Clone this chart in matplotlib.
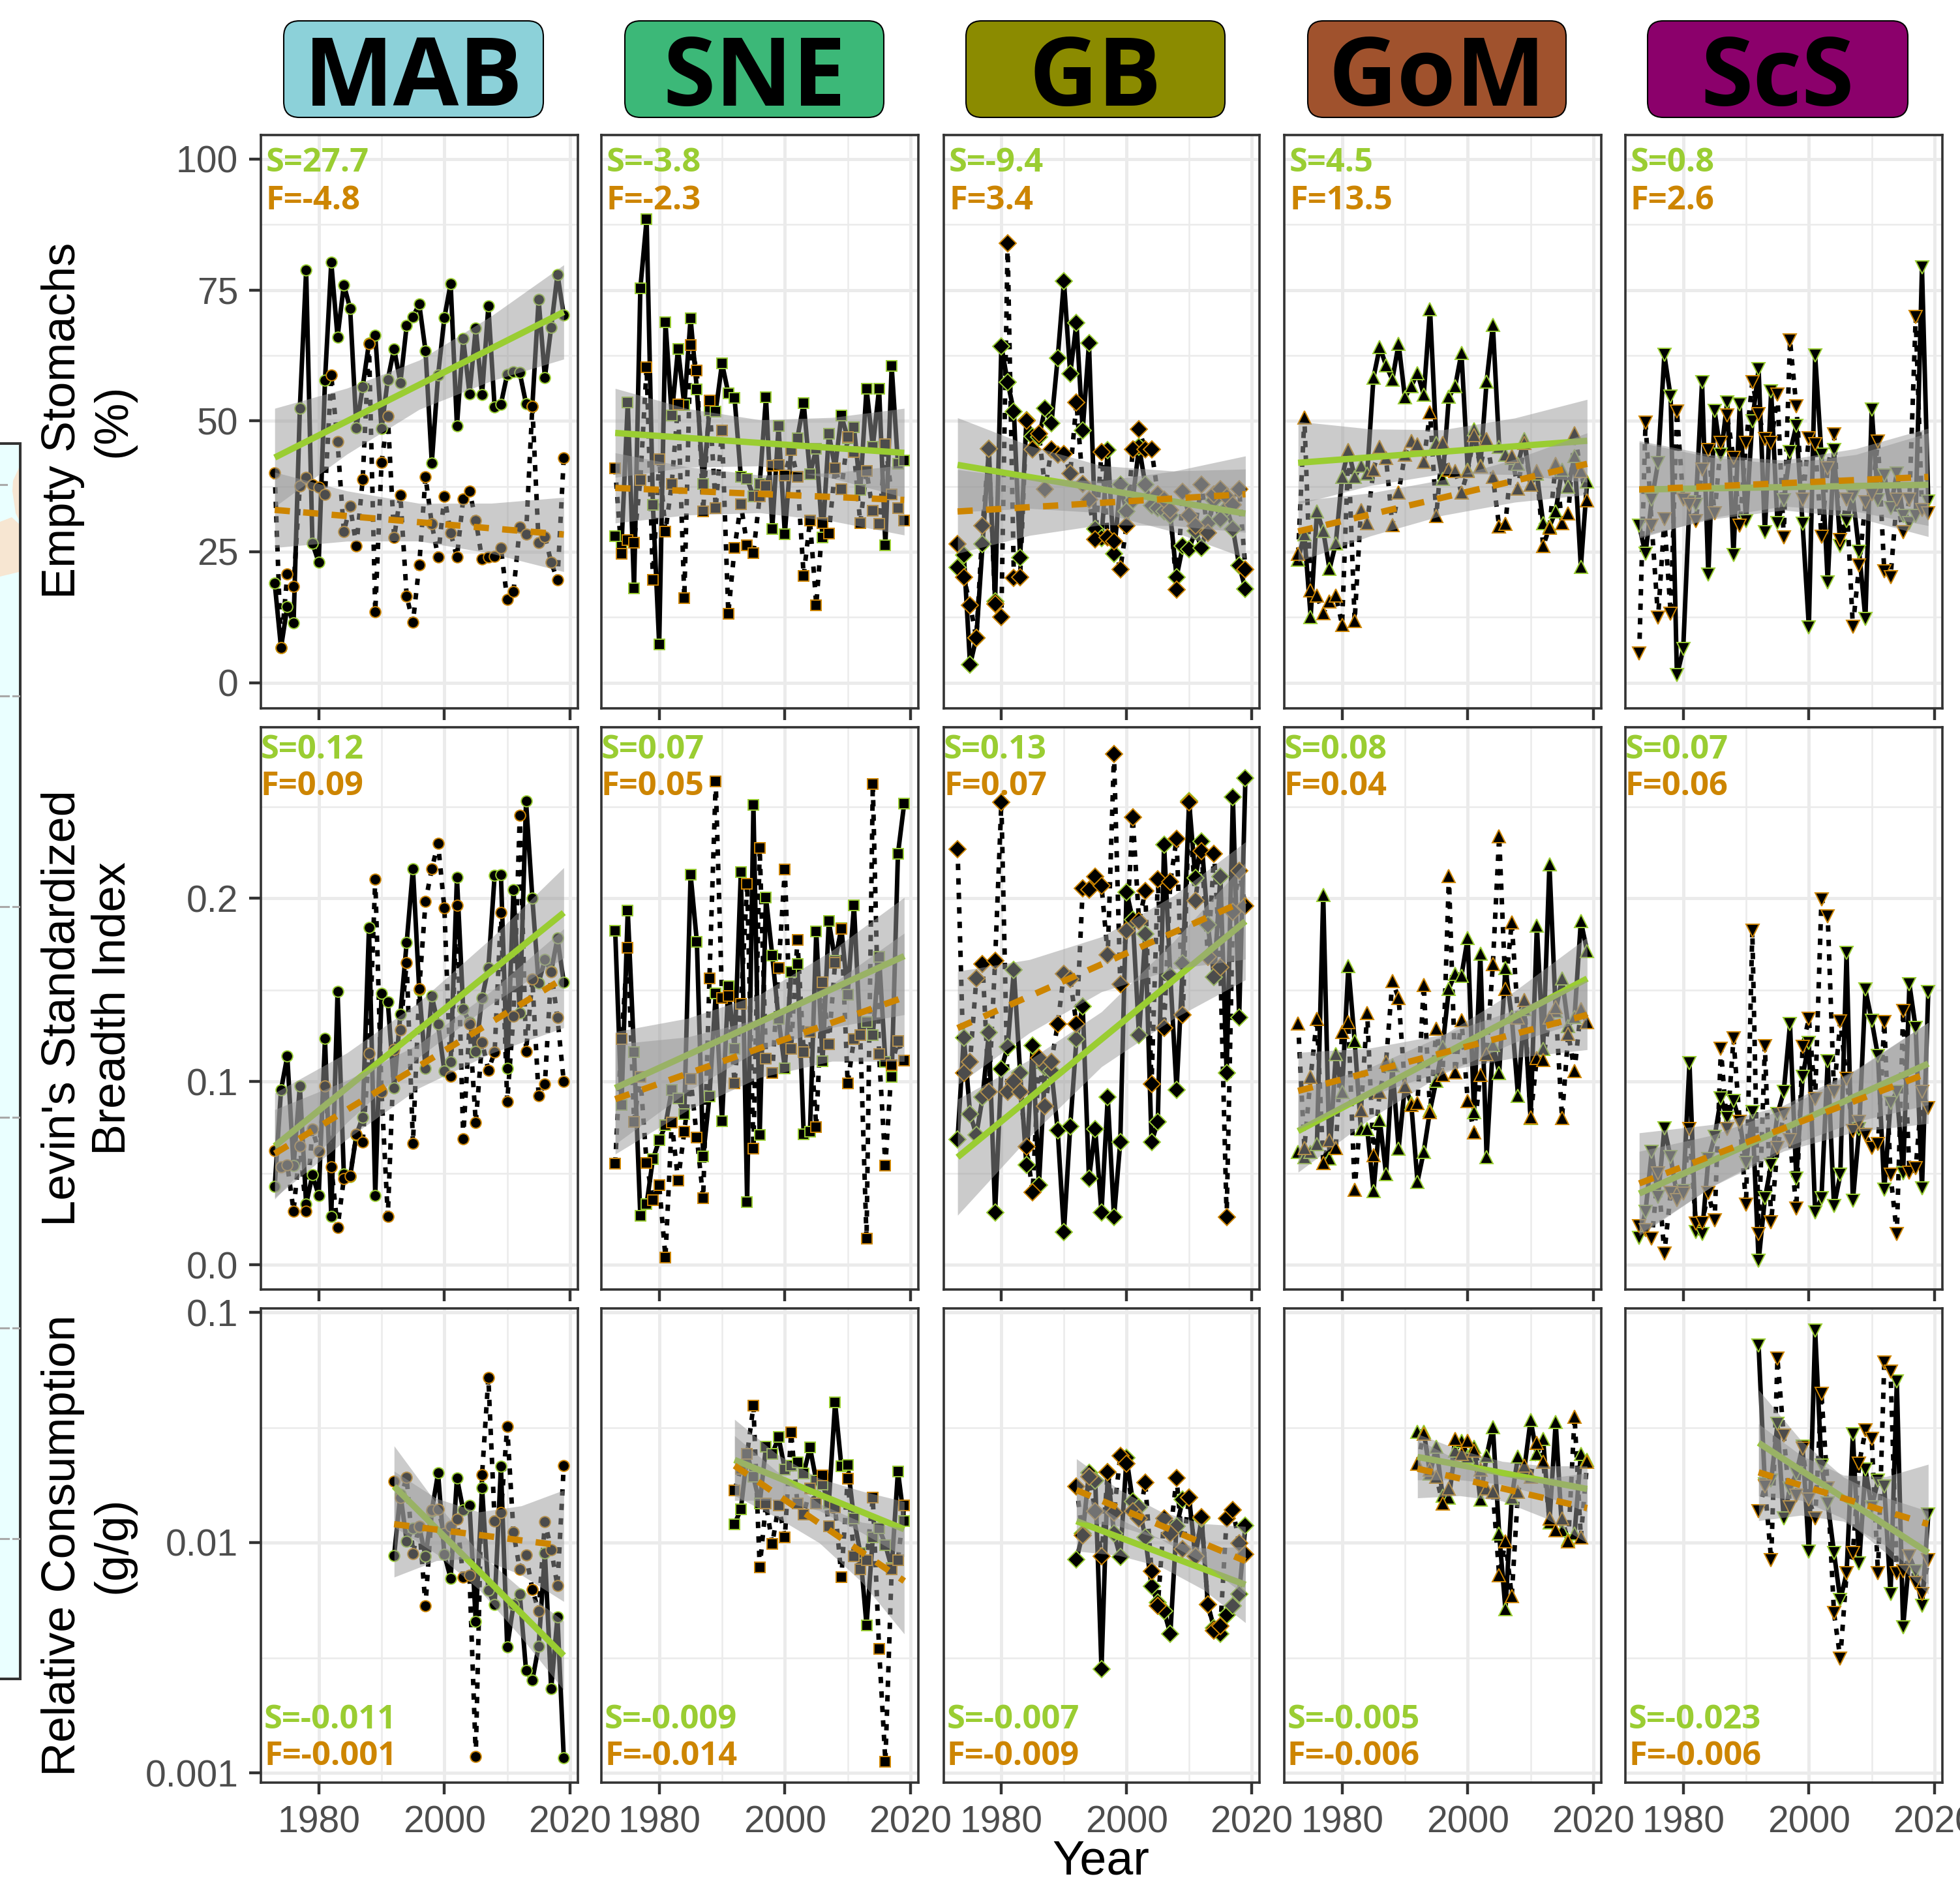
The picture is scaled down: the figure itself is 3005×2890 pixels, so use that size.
import numpy as np
import matplotlib
matplotlib.use("Agg")
import matplotlib.pyplot as plt
from matplotlib.patches import FancyBboxPatch, Rectangle, Polygon

W, H = 3005, 2890
regions = ["MAB", "SNE", "GB", "GoM", "ScS"]
region_colors = ["#8CD1D9", "#3CB878", "#8B8B00", "#A0522D", "#8B006B"]
markers = ["o", "s", "D", "^", "v"]
marker_sizes = [12, 11.5, 13, 15, 15]
years_full = np.arange(1973, 2020)
years_cons = np.arange(1992, 2020)
S_COL = "#9ACD32"
F_COL = "#CD8500"

MAB_empty_S = [19,6.7,14.5,11.4,52.4,78.8,26.6,23,57.7,80.3,
 66,76,71.5,48.7,56.5,64.9,66.4,48.5,57.9,63.8,
 57.3,68.2,69.9,72.3,63.4,42,58.7,69.7,76.2,49,
 65.7,55.2,67.7,55,71.9,52.6,53.2,58.9,59.4,59.2,
 53.3,52.8,73.2,58.3,67.9,78,70.2]
MAB_empty_F = [40.1,6.7,20.7,18.4,37.6,39.2,37.8,37.3,36,58.7,
 46,28.8,33.7,26.1,38.8,64.7,13.5,42.1,50.9,27.7,
 35.8,16.5,11.5,22.5,39.3,30.3,24,35.6,28.6,24,
 35.1,36.6,31,23.6,24,24.1,25.7,15.9,17.4,29.7,
 28.3,52.8,26.8,27.9,23,19.6,42.9]
SNE_empty_S = [28,26,53.5,18,75.3,88.5,34,7.3,68.9,51,
 63.8,53,69.6,56,38,52,51.8,61,55.3,54.4,
 39.3,38.9,35.6,38,54.5,29.4,49,28.4,44.4,46.7,
 53.4,39.8,44.7,27.7,47.5,41,51,46.7,48.8,36.8,
 56.2,45,56.2,26.2,60.5,41.8,42.5]
SNE_empty_F = [41,24.6,27.2,26.8,38.7,60.2,19.7,42.7,28.9,38,
 53.1,16.2,64.5,59.6,32.7,53.9,33.3,48.2,13.2,25.7,
 34.1,26.2,24.8,35.6,37.6,41.4,41.6,39.6,44.4,39.3,
 20.4,31,14.8,30.5,28.5,41,36.9,46.9,44,30.5,
 40.4,32.8,30.3,45.5,36,33.4,31]
GB_empty_S = [22,24.4,3.4,8.6,26.5,44.7,15.5,64.3,57.4,51.8,
 23.9,50.2,47.1,46.9,52.4,49.5,62,76.7,59,68.7,
 48.2,64.8,29.4,27.6,44.4,24.6,37.8,32.7,34.9,45.1,
 37.8,33.8,33.4,32.7,32,20.2,26.1,25.5,29,25.7,
 30.5,34.9,31.2,33.4,29.4,22.4,17.9]
GB_empty_F = [26.5,20.2,14.8,8.6,30,44.7,15,12.6,83.9,20,
 20.2,50,44.5,47.5,37,44.6,43.5,43.7,40,53.5,
 38,35,27.4,44,27.7,27,21.6,30,44.5,48.4,
 44.5,44.5,36,35,33,17.8,36.5,32,30,37.8,
 28.6,36,37,35.5,34,37,21.6]
GoM_empty_S = [23.5,28.3,12.6,32.7,29,21.7,26.6,39.3,44.4,39.3,
 41.4,40,58.3,64.1,60.6,57.9,64.7,54.5,56.6,59.1,
 55,71.4,45.8,38.9,54.6,56.6,63,40.7,48.4,41.4,
 57.5,68.3,45.1,43.6,42.9,41.8,46.6,37.8,40,30.5,
 29.8,32.7,40.7,37.4,43.3,22.1,38.5]
GoM_empty_F = [24.6,50.6,17.7,16.6,13.3,15.5,16.7,11.1,44.4,11.8,
 33,30.5,40.7,45.1,42.9,30.1,36.3,43.6,46.2,45.5,
 42.2,51.7,31.9,45.8,40.7,40.4,36.3,40.4,47.3,41.3,
 46.6,39.3,29.8,30.3,43.3,37.1,45.8,37.8,40.4,26.1,
 29.6,41.8,30.5,32.3,47.7,40.4,34.9]
ScS_empty_S = [30,24.6,35,42,62.6,54.6,1.4,6.4,34.5,34,
 57.4,20.6,51.9,43.6,53.5,24.4,53.1,30.8,49.9,59.9,
 28.7,55.7,30.5,34.9,44,49.1,30.3,10.6,62.5,43.6,
 19.2,44.4,26.1,30.8,35.6,25,12.2,52.2,34.9,39.6,
 33.4,40,31.9,30.5,31.9,79.3,34.6]
ScS_empty_F = [5.6,49.7,30,12.4,31.2,13.2,51.8,35,34,30.8,
 40.7,44.4,32.3,45.8,51,42.9,30,45.8,57.4,51.3,
 46.6,45.8,55,27.8,65.4,52.8,35,46.7,45.5,27.9,
 41,47.4,27.2,35,10.7,22.4,34.5,36,46,21.3,
 20.2,35,28.7,35,69.8,33,32.3]

MAB_levin_S = [.0427,.0953,.1139,.054,.0975,.033,.049,.0378,.1235,.0264,
 .1493,.0495,.048,.071,.0806,.184,.0378,.148,.1436,.0965,
 .1368,.1759,.2162,.15,.1072,.1466,.1313,.1057,.1108,.2114,
 .1395,.1323,.1166,.1456,.162,.2125,.2131,.1072,.2049,.1374,
 .253,.2002,.1538,.1665,.1603,.1783,.1542]
MAB_levin_F = [.0622,.0536,.0546,.0294,.0648,.0294,.074,.062,.0975,.0536,
 .0202,.047,.0485,.0714,.0669,.1155,.2106,.0945,.0264,.1174,
 .1282,.165,.0663,.1507,.1982,.2162,.2299,.1947,.1031,.1961,
 .0689,.1313,.0775,.1215,.1063,.116,.1922,.089,.1358,.2454,
 .1164,.1558,.0924,.0986,.16,.1348,.1]
SNE_levin_S = [.1824,.0873,.1933,.116,.0266,.0331,.0577,.0679,.0761,.0955,
 .0908,.0822,.2131,.1763,.0591,.092,.1481,.0785,.1521,.118,
 .2145,.0342,.2509,.071,.2004,.1687,.1344,.1072,.16,.164,
 .0714,.0726,.182,.1112,.1875,.166,.1838,.1476,.1963,.1252,
 .1323,.1252,.1681,.1108,.1027,.2243,.2519]
SNE_levin_F = [.0552,.1231,.1732,.0781,.1027,.0556,.0352,.0434,.0041,.0777,
 .046,.0726,.1016,.0695,.0362,.1564,.2638,.1456,.1466,.099,
 .1425,.208,.0634,.2274,.1125,.1047,.162,.2157,.118,.1773,
 .116,.127,.0751,.1542,.1204,.165,.1834,.099,.1231,.1252,
 .0143,.2626,.1149,.0542,.1088,.1221,.1115]
GB_levin_S = [.0685,.1241,.0822,.071,.0914,.1266,.0286,.1069,.119,.1609,
 .1047,.0546,.1196,.0434,.1078,.1057,.0734,.0178,.0755,.1231,
 .1411,.047,.074,.0286,.0914,.026,.0669,.2035,.1885,.1252,
 .1804,.0669,.0781,.2294,.1579,.0955,.1646,.253,.211,.2311,
 .1855,.1569,.212,.1047,.2554,.135,.2656]
GB_levin_F = [.2268,.1047,.1108,.1564,.164,.0945,.1661,.2524,.0945,.1,
 .0945,.0644,.0397,.1129,.0867,.1108,.1313,.1589,.1558,.1313,
 .2053,.2049,.212,.207,.1691,.2789,.1532,.1824,.2442,.1875,
 .2039,.0986,.2104,.1292,.209,.2325,.1364,.2524,.1988,.2258,
 .1681,.2243,.1624,.026,.1926,.2151,.1957]
GoM_levin_S = [.0618,.0587,.0618,.0659,.2018,.0581,.1149,.0945,.163,.1221,
 .074,.074,.0403,.0791,.0495,.1088,.0634,.0975,.0883,.0454,
 .0618,.0843,.1006,.119,.1507,.1589,.1579,.1783,.0832,.1697,
 .0587,.12,.1047,.162,.1354,.0924,.1395,.08,.1851,.118,
 .2186,.1384,.1562,.1303,.1354,.1875,.1712]
GoM_levin_F = [.1319,.0638,.1027,.1344,.0556,.0679,.0638,.1272,.1323,.0409,
 .0843,.1374,.0597,.0945,.1108,.1548,.1456,.0975,.0873,.0883,
 .1528,.0832,.1288,.1037,.2121,.105,.1337,.0894,.0724,.1037,
 .1149,.164,.234,.1507,.1869,.135,.1446,.0806,.1129,.1119,
 .135,.1405,.0802,.1262,.1057,.1395,.1323]
ScS_levin_S = [.0147,.029,.0618,.037,.0744,.0587,.0382,.0403,.1102,.0178,
 .0168,.0577,.0699,.0908,.0802,.0894,.0781,.0556,.0832,.002,
 .0362,.0546,.0822,.0945,.1313,.047,.1027,.1211,.0286,.0362,
 .1112,.0321,.0491,.1701,.0348,.074,.1501,.1333,.1139,.0409,
 .0883,.0945,.05,.1532,.1292,.0417,.1487]
ScS_levin_F = [.0209,.0188,.0143,.05,.0061,.0393,.0352,.039,.074,.0225,
 .0229,.0393,.0243,.118,.074,.1235,.0781,.0327,.1824,.0168,
 .1194,.0233,.0638,.0822,.068,.0307,.119,.1344,.0904,.1994,
 .1902,.0945,.1329,.1016,.073,.0781,.071,.0638,.0659,.1323,
 .0491,.0168,.1384,.0501,.0526,.0945,.0853]

# relative consumption, log10(g/g)
MAB_cons_S = [-2.057,-1.789,-1.994,-1.937,-1.932,-2.06,-1.863,-1.698,-2.052,-2.155,
 -1.72,-1.859,-1.838,-2.343,-1.761,-2.208,-2.27,-1.669,-2.454,-2.27,
 -2.224,-2.556,-2.599,-2.451,-2.044,-2.635,-2.323,-2.934]
MAB_cons_F = [-1.735,-1.805,-1.718,-2.047,-1.929,-2.274,-1.859,-1.856,-1.961,-1.93,
 -1.899,-2.15,-2.142,-2.928,-1.705,-1.284,-1.907,-1.871,-1.495,-1.956,
 -2.117,-2.055,-2.203,-2.298,-1.909,-2.03,-2.188,-1.666]
SNE_cons_S = [-1.92,-1.855,-1.616,-1.715,-1.83,-1.583,-1.616,-1.542,-1.682,-1.665,
 -1.652,-1.70,-1.587,-1.731,-1.748,-1.83,-1.391,-1.669,-1.662,-1.896,
 -2.044,-2.359,-1.978,-1.937,-2.01,-2.11,-1.69,-1.907]
SNE_cons_F = [-1.772,-1.68,-1.616,-1.406,-2.109,-1.83,-2.007,-1.838,-1.978,-1.521,
 -1.83,-1.879,-1.764,-1.83,-1.707,-1.929,-1.846,-2.15,-1.723,-2.06,
 -2.117,-2.076,-1.805,-2.463,-2.951,-2.117,-2.076,-1.838]
GB_cons_S = [-2.073,-1.961,-1.698,-1.731,-2.55,-1.695,-1.961,-2.063,-1.633,-1.822,
 -1.846,-1.978,-2.191,-2.26,-2.298,-2.397,-1.929,-1.813,-1.805,-2.06,
 -1.896,-2.27,-2.372,-2.397,-2.315,-2.274,-2.224,-1.925]
GB_cons_F = [-1.756,-1.97,-1.715,-1.863,-2.06,-1.695,-1.871,-1.624,-1.657,-1.863,
 -1.896,-1.74,-2.126,-2.274,-1.896,-1.961,-1.72,-2.027,-1.805,-2.06,
 -1.89,-2.27,-2.382,-2.364,-1.896,-1.859,-2.002,-2.052]
GoM_cons_S = [-1.518,-1.518,-1.70,-1.583,-1.797,-1.805,-1.60,-1.559,-1.625,-1.583,
 -1.813,-1.624,-1.498,-1.961,-2.29,-1.805,-1.625,-1.682,-1.468,-1.616,
 -1.55,-1.912,-1.477,-1.945,-1.986,-1.961,-1.616,-1.64]
GoM_cons_F = [-1.657,-1.526,-1.682,-1.715,-1.83,-1.764,-1.55,-1.616,-1.559,-1.6,
 -1.682,-1.764,-1.78,-2.142,-1.994,-2.233,-1.78,-1.666,-1.715,-1.567,
 -1.649,-1.896,-1.945,-1.896,-1.994,-1.452,-1.978,-1.649]
ScS_cons_S = [-1.145,-1.748,-1.731,-1.485,-1.896,-1.764,-1.70,-1.583,-2.04,-1.079,
 -1.666,-1.83,-2.044,-2.249,-2.134,-1.531,-2.09,-1.682,-1.846,-1.731,
 -1.756,-2.224,-1.301,-2.367,-2.06,-2.126,-2.274,-1.879]
ScS_cons_F = [-1.863,-1.756,-2.076,-1.202,-1.534,-1.846,-1.797,-1.592,-1.813,-1.896,
 -1.353,-1.764,-2.306,-2.504,-2.134,-2.044,-1.657,-1.514,-1.55,-2.134,
 -1.217,-1.258,-2.134,-2.126,-2.06,-2.175,-2.224,-2.076]

# fitted trend: [value at first year, value at last year], CI half width at 5 even stations
fit_empty_S = [([43,70.8],[9.4,6.3,4.7,6.2,9]), ([47.7,43.9],[8.5,5.6,4.4,5.8,8.5]),
               ([41.6,32.3],[9,6,4.5,5.8,8.5]), ([42,46.2],[7.9,5.4,4.2,5.4,7.9]),
               ([36.9,37.8],[9,5.9,4.4,6,9.9])]
fit_empty_F = [([33,28.3],[7.2,4.8,3.6,4.8,7.1]), ([37.2,34.9],[6.7,4.6,3.6,4.6,6.7]),
               ([32.7,36],[8,5.4,4.2,5.2,7.3]), ([28.9,41.8],[5.8,4.1,3.4,4.1,5.9]),
               ([36.9,39.3],[9.3,6,4.4,6,9.3])]
fit_levin_S = [([.0648,.1922],[.029,.019,.015,.018,.0246]), ([.0965,.1685],[.0307,.02,.015,.021,.032]),
               ([.0587,.1875],[.0317,.021,.015,.021,.032]), ([.073,.1562],[.0225,.014,.0105,.014,.0225]),
               ([.0389,.1098],[.023,.014,.0105,.014,.0225])]
fit_levin_F = [([.0607,.1564],[.024,.016,.012,.017,.027]), ([.0904,.146],[.03,.02,.016,.021,.035]),
               ([.1292,.1988],[.031,.02,.015,.02,.032]), ([.0949,.1364],[.021,.013,.01,.013,.019]),
               ([.0444,.1047],[.0276,.017,.0125,.017,.0276])]
fit_cons_S = [([-1.756,-2.491],[.176,.11,.08,.105,.15]), ([-1.641,-1.942],[.176,.10,.07,.09,.12]),
              ([-1.907,-2.183],[.13,.08,.06,.09,.165]), ([-1.628,-1.767],[.10,.065,.05,.065,.10]),
              ([-1.567,-2.044],[.23,.13,.09,.12,.18])]
fit_cons_F = [([-1.92,-2.014],[.23,.135,.10,.15,.242]), ([-1.666,-2.167],[.13,.10,.085,.13,.23]),
              ([-1.772,-2.08],[.136,.08,.06,.085,.15]), ([-1.679,-1.85],[.127,.075,.055,.085,.152]),
              ([-1.695,-1.92],[.21,.13,.10,.15,.26])]

labels_empty = [("S=27.7","F=-4.8"),("S=-3.8","F=-2.3"),("S=-9.4","F=3.4"),("S=4.5","F=13.5"),("S=0.8","F=2.6")]
labels_levin = [("S=0.12","F=0.09"),("S=0.07","F=0.05"),("S=0.13","F=0.07"),("S=0.08","F=0.04"),("S=0.07","F=0.06")]
labels_cons = [("S=-0.011","F=-0.001"),("S=-0.009","F=-0.014"),("S=-0.007","F=-0.009"),("S=-0.005","F=-0.006"),("S=-0.023","F=-0.006")]

data_empty = [(MAB_empty_S,MAB_empty_F),(SNE_empty_S,SNE_empty_F),(GB_empty_S,GB_empty_F),(GoM_empty_S,GoM_empty_F),(ScS_empty_S,ScS_empty_F)]
data_levin = [(MAB_levin_S,MAB_levin_F),(SNE_levin_S,SNE_levin_F),(GB_levin_S,GB_levin_F),(GoM_levin_S,GoM_levin_F),(ScS_levin_S,ScS_levin_F)]
data_cons = [(MAB_cons_S,MAB_cons_F),(SNE_cons_S,SNE_cons_F),(GB_cons_S,GB_cons_F),(GoM_cons_S,GoM_cons_F),(ScS_cons_S,ScS_cons_F)]

plt.rcParams["font.family"] = ["Liberation Sans", "DejaVu Sans"]
fig = plt.figure(figsize=(W / 100, H / 100), dpi=100, facecolor="white")

bg = fig.add_axes([0, 0, 1, 1], zorder=0)
bg.set_xlim(0, W)
bg.set_ylim(H, 0)
bg.axis("off")

# left-edge remnant of the map panel
bg.add_patch(Rectangle((-10, 680), 41, 1894, fc="#EAFFFF", ec="#333333", lw=2.9))
bg.add_patch(Polygon([(29, 717), (20, 737), (19, 753), (24, 787), (29, 797)], fc="#F7E6D2", ec="none"))
bg.add_patch(Polygon([(0, 800), (18, 793), (29, 803), (29, 877), (8, 882), (0, 884)], fc="#F7E6D2", ec="none"))
bg.plot([0, 10], [743, 743], color="#A9A9A9", lw=2.2)
for yy in [1067, 1390, 1713, 2036, 2359]:
    bg.plot([0, 13], [yy, yy], color="#A9A9A9", lw=2.2)
    bg.plot([20, 29], [yy, yy], color="#A9A9A9", lw=2.2)

panel_x = [(400, 886), (922, 1408), (1447, 1931), (1969, 2455), (2492, 2978)]
strip_x = [(435, 833), (958, 1355), (1481, 1878), (2005, 2401), (2526, 2925)]
rows = [(207, 1086), (1115, 1977), (2006, 2733)]

for (x0, x1), name, col in zip(strip_x, regions, region_colors):
    bg.add_patch(FancyBboxPatch((x0 + 24, 32 + 24), x1 - x0 - 48, 148 - 48,
                                boxstyle="round,pad=24,rounding_size=24", fc=col, ec="black", lw=1.5))
    bg.text((x0 + x1) / 2, 124, name, ha="center", va="center", fontsize=105,
            fontweight="bold", family=["Open Sans", "DejaVu Sans"], color="black")

ylabels = [("Empty Stomachs", "(%)", 645), ("Levin's Standardized", "Breadth Index", 1546),
           ("Relative Consumption", "(g/g)", 2369)]
for l1, l2, yc in ylabels:
    bg.text(115, yc, l1, rotation=90, ha="center", va="baseline", rotation_mode="anchor", fontsize=52, color="black")
    bg.text(192, yc, l2, rotation=90, ha="center", va="baseline", rotation_mode="anchor", fontsize=52, color="black")
bg.text(1688, 2874, "Year", ha="center", va="baseline", fontsize=53, color="black")


def draw_series(ax, x, vals, col, mk, ms, dotted, log):
    y = 10 ** np.asarray(vals) if log else np.asarray(vals)
    if dotted:
        ax.plot(x, y, color="black", lw=5, dashes=(1.4, 1.8), dash_capstyle="butt", zorder=3)
    else:
        ax.plot(x, y, color="black", lw=5, zorder=3)
    ax.plot(x, y, ls="none", marker=mk, ms=ms, mfc="black", mec=col, mew=1.4, zorder=3.2)


def draw_fit(ax, x, fit, col, dashed, log, z):
    (v0, v1), w = fit
    st = np.linspace(x[0], x[-1], 5)
    line = np.array([v0 + (v1 - v0) * i / 4 for i in range(5)])
    w = np.array(w)
    up, lo = line + w, line - w
    if log:
        up, lo, line = 10 ** up, 10 ** lo, 10 ** line
    ax.fill_between(st, lo, up, color="#999999", alpha=0.5, lw=0, zorder=z)
    if dashed:
        ax.plot(st, line, color=col, lw=7, dashes=(2.4, 2.1), dash_capstyle="butt", zorder=z + 0.1)
    else:
        ax.plot(st, line, color=col, lw=7, solid_capstyle="butt", zorder=z + 0.1)


rowspec = [
    dict(data=data_empty, fitS=fit_empty_S, fitF=fit_empty_F, labs=labels_empty, x=years_full, log=False,
         ylim=(-4.9, 104.6), yt=[0, 25, 50, 75, 100], ytl=["0", "25", "50", "75", "100"],
         ym=[12.5, 37.5, 62.5, 87.5], ty=(250, 308), off=8),
    dict(data=data_levin, fitS=fit_levin_S, fitF=fit_levin_F, labs=labels_levin, x=years_full, log=False,
         ylim=(-0.0135, 0.2934), yt=[0, 0.1, 0.2], ytl=["0.0", "0.1", "0.2"],
         ym=[0.05, 0.15, 0.25], ty=(1150, 1206), off=0),
    dict(data=data_cons, fitS=fit_cons_S, fitF=fit_cons_F, labs=labels_cons, x=years_cons, log=True,
         ylim=(10 ** (-3 - 15 / 353), 10 ** (-1 + 6 / 353)), yt=[0.001, 0.01, 0.1], ytl=["0.001", "0.01", "0.1"],
         ym=[10 ** -2.5, 10 ** -1.5], ty=(2637, 2693), off=5),
]

for r, spec in enumerate(rowspec):
    top, bot = rows[r]
    for c in range(5):
        l, rt = panel_x[c]
        ax = fig.add_axes([l / W, 1 - bot / H, (rt - l) / W, (bot - top) / H], zorder=1, facecolor="white")
        if spec["log"]:
            ax.set_yscale("log")
        ax.set_xlim(1970.8, 2021.25)
        ax.set_ylim(*spec["ylim"])
        ax.set_xticks([1980, 2000, 2020])
        ax.set_xticks([1990, 2010], minor=True)
        ax.set_yticks(spec["yt"])
        ax.set_yticks(spec["ym"], minor=True)
        ax.yaxis.set_minor_formatter(matplotlib.ticker.NullFormatter())
        ax.set_axisbelow(True)
        ax.grid(which="major", color="#EBEBEB", lw=3.6)
        ax.grid(which="minor", color="#EBEBEB", lw=1.8)
        ax.tick_params(which="minor", length=0)
        ax.tick_params(which="major", length=13, width=3.2, color="#333333", labelcolor="#4D4D4D", labelsize=41)
        ax.tick_params(axis="x", pad=12, labelbottom=(r == 2))
        ax.tick_params(axis="y", pad=12, left=(c == 0), labelleft=(c == 0))
        if c == 0:
            ax.set_yticklabels(spec["ytl"])
        for sp in ax.spines.values():
            sp.set_color("#333333")
            sp.set_linewidth(2.6)
        S, F = spec["data"][c]
        x = spec["x"]
        draw_series(ax, x, S, S_COL, markers[c], marker_sizes[c], False, spec["log"])
        draw_series(ax, x, F, F_COL, markers[c], marker_sizes[c], True, spec["log"])
        draw_fit(ax, x, spec["fitS"][c], S_COL, False, spec["log"], 4)
        draw_fit(ax, x, spec["fitF"][c], F_COL, True, spec["log"], 5)
        sl, fl = spec["labs"][c]
        tx = l + spec["off"]
        fig.text(tx / W, 1 - spec["ty"][0] / H, sl, color=S_COL, fontsize=36.5, fontweight="bold",
                 family=["Open Sans", "DejaVu Sans"], ha="left", va="center", zorder=10)
        fig.text(tx / W, 1 - spec["ty"][1] / H, fl, color=F_COL, fontsize=36.5, fontweight="bold",
                 family=["Open Sans", "DejaVu Sans"], ha="left", va="center", zorder=10)

fig.savefig("out.png", dpi=100, facecolor="white")
